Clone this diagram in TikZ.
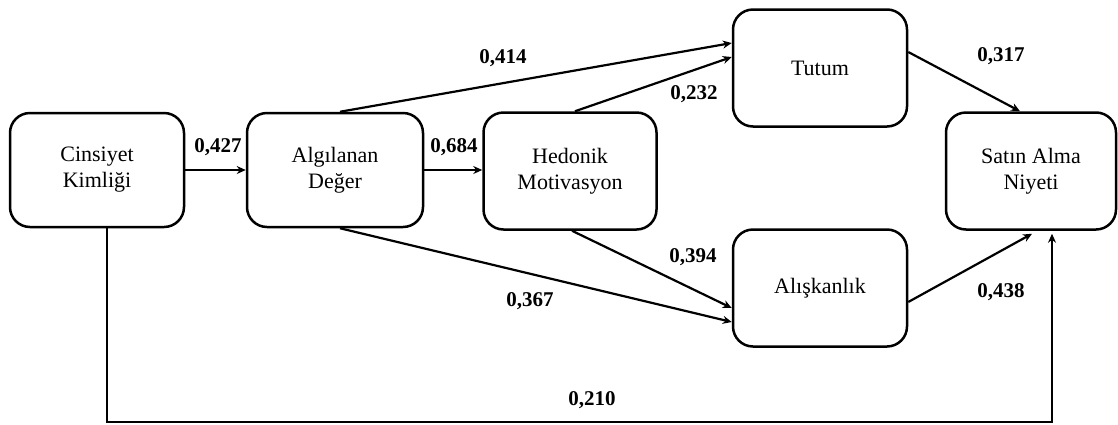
\documentclass[tikz,border=0pt]{standalone}
\usepackage{fontspec}
\setmainfont{Liberation Serif}
\usetikzlibrary{arrows.meta,calc}
\tikzset{
  box/.style={draw, line width=2.5pt, rounded corners=20pt, fill=white,
    align=center, inner sep=0pt, font=\fontsize{22}{26}\selectfont},
  path/.style={line width=2.2pt, -{Stealth[length=9pt,width=8pt]}},
  coef/.style={font=\fontsize{21}{24}\selectfont\bfseries, inner sep=0pt}
}
\begin{document}
\begin{tikzpicture}[x=1pt,y=-1pt]
\useasboundingbox (0,0) rectangle (1118,424);

% constructs
\node[box, minimum width=174pt, minimum height=114pt] (cins) at (97,170) {Cinsiyet\\Kimliği};
\node[box, minimum width=176pt, minimum height=114pt] (alg)  at (335,170) {Algılanan\\Değer};
\node[box, minimum width=173pt, minimum height=117pt] (hed)  at (570,171) {Hedonik\\Motivasyon};
\node[box, minimum width=174pt, minimum height=117pt] (tut)  at (820,68) {Tutum};
\node[box, minimum width=174pt, minimum height=117pt] (ali)  at (820,288) {Alışkanlık};
\node[box, minimum width=170pt, minimum height=117pt] (sat)  at (1031,171) {Satın Alma\\Niyeti};

% paths
\draw[path] (cins.east) -- (alg.west);
\draw[path] (alg.east) -- (alg.east -| hed.west);
\draw[path] ([xshift=5pt]alg.north) -- ([yshift=25pt]tut.west);
\draw[path] ([xshift=5pt]hed.north) -- ([yshift=11pt]tut.west);
\draw[path] ([xshift=2pt]hed.south) -- ([yshift=-20pt]ali.west);
\draw[path] ([xshift=5pt]alg.south) -- ([yshift=-34pt]ali.west);
\draw[path] ([yshift=16pt]tut.east) -- ([xshift=-11pt]sat.north);
\draw[path] ([yshift=-14pt]ali.east) -- ([xshift=1pt,yshift=-3pt]sat.south);
\coordinate (low) at (0,422);
\draw[path] ([xshift=10pt]cins.south) |- (low -| 1052,0) -- ([xshift=21pt,yshift=-3pt]sat.south);

% coefficients
\node[coef] (c1) at (218,147) {0,427};
\node[coef] (c2) at (454,147) {0,684};
\node[coef] (c3) at (503,58) {0,414};
\node[coef] (c4) at (694,94) {0,232};
\node[coef] (c5) at (1001,56) {0,317};
\node[coef] (c6) at (693,257) {0,394};
\node[coef] (c7) at (530,301) {0,367};
\node[coef] (c8) at (1001,292) {0,438};
\node[coef] (c9) at (592,400) {0,210};
\end{tikzpicture}
\end{document}
